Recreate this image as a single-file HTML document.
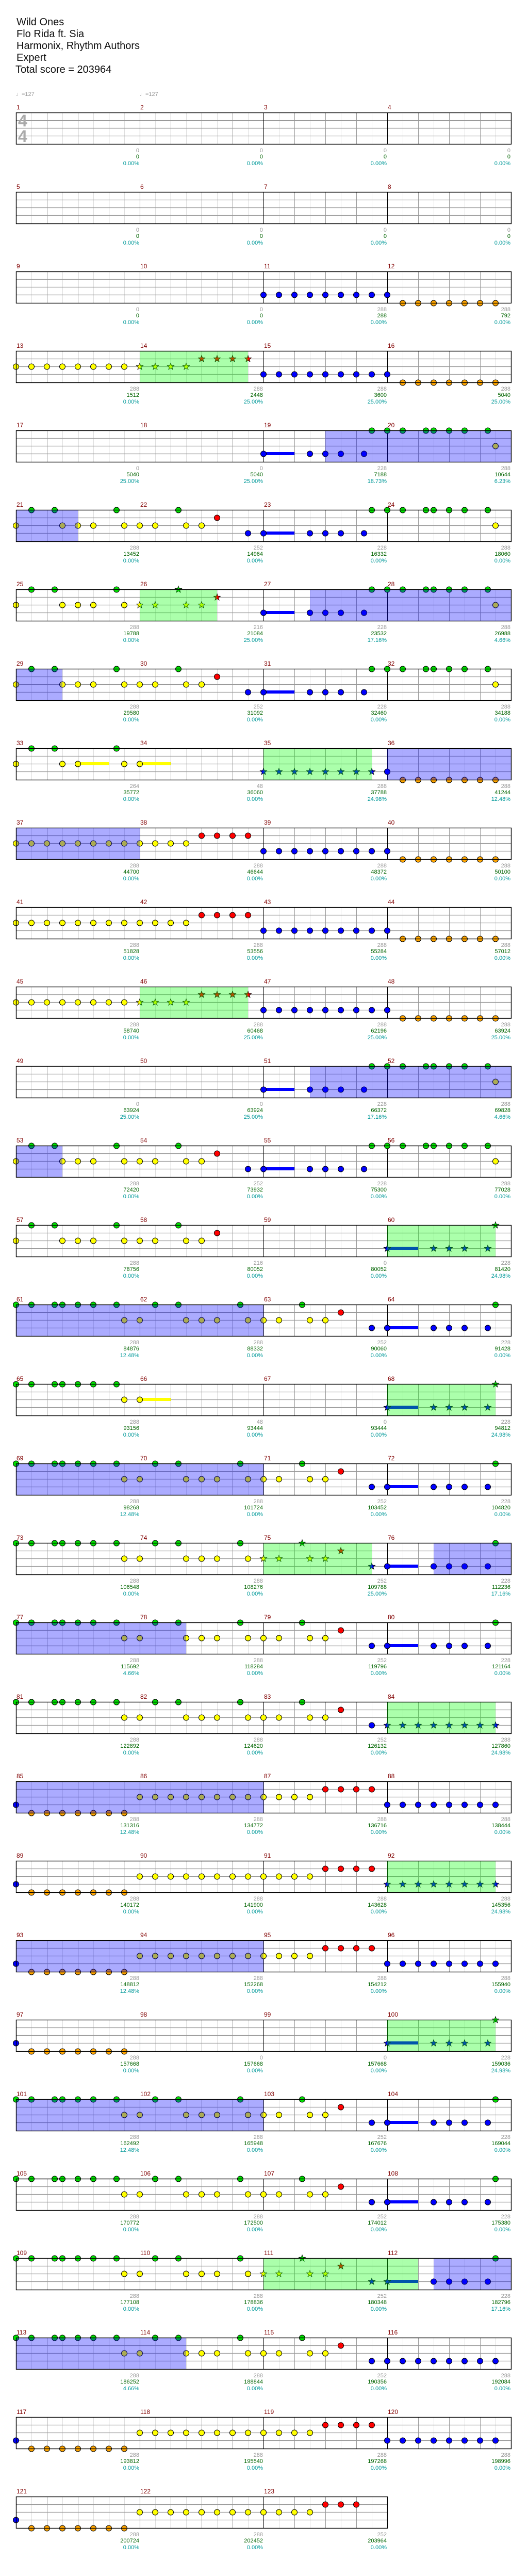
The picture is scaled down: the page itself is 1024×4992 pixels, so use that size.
<!DOCTYPE html>
<html><head><meta charset="utf-8">
<style>
html,body{margin:0;padding:0;background:#fff;}
svg{display:block;}
text{font-family:"Liberation Sans",sans-serif;}
.t{font-size:20px;fill:#111;}
.n{font-size:12px;fill:#800000;}
.g,.s,.p{font-size:11px;text-anchor:end;}
.g{fill:#999;}
.s{fill:#006400;}
.p{fill:#009999;}
.tm{font-size:11px;fill:#999;}
.ts{font-size:32px;font-weight:bold;fill:#aaa;}
</style></head>
<body>
<svg id="svg" width="1024" height="4992" viewBox="0 0 1024 4992" xmlns="http://www.w3.org/2000/svg">
<rect width="1024" height="4992" fill="#fff"/>
<g id="shapes"></g>
<g id="texts">
<text class="t" x="32" y="49">Wild Ones</text>
<text class="t" x="32" y="72">Flo Rida ft.  Sia</text>
<text class="t" x="32" y="95">Harmonix,  Rhythm  Authors</text>
<text class="t" x="32" y="118">Expert</text>
<text class="t" x="30" y="141">Total score = 203964</text>
<text class="tm" x="31" y="186">♩=127</text>
<text class="tm" x="271" y="186">♩=127</text>
<text class="ts" x="35" y="245">4</text>
<text class="ts" x="35" y="275">4</text>

<g transform="translate(0,218)">
<text class="n" x="32" y="-6">1</text><text class="n" x="272" y="-6">2</text><text class="n" x="512" y="-6">3</text><text class="n" x="752" y="-6">4</text>
<text class="g" x="270" y="77">0</text><text class="s" x="270" y="89">0</text><text class="p" x="270" y="102">0.00%</text>
<text class="g" x="510" y="77">0</text><text class="s" x="510" y="89">0</text><text class="p" x="510" y="102">0.00%</text>
<text class="g" x="750" y="77">0</text><text class="s" x="750" y="89">0</text><text class="p" x="750" y="102">0.00%</text>
<text class="g" x="990" y="77">0</text><text class="s" x="990" y="89">0</text><text class="p" x="990" y="102">0.00%</text>
</g>
<g transform="translate(0,372)">
<text class="n" x="32" y="-6">5</text><text class="n" x="272" y="-6">6</text><text class="n" x="512" y="-6">7</text><text class="n" x="752" y="-6">8</text>
<text class="g" x="270" y="77">0</text><text class="s" x="270" y="89">0</text><text class="p" x="270" y="102">0.00%</text>
<text class="g" x="510" y="77">0</text><text class="s" x="510" y="89">0</text><text class="p" x="510" y="102">0.00%</text>
<text class="g" x="750" y="77">0</text><text class="s" x="750" y="89">0</text><text class="p" x="750" y="102">0.00%</text>
<text class="g" x="990" y="77">0</text><text class="s" x="990" y="89">0</text><text class="p" x="990" y="102">0.00%</text>
</g>
<g transform="translate(0,526)">
<text class="n" x="32" y="-6">9</text><text class="n" x="272" y="-6">10</text><text class="n" x="512" y="-6">11</text><text class="n" x="752" y="-6">12</text>
<text class="g" x="270" y="77">0</text><text class="s" x="270" y="89">0</text><text class="p" x="270" y="102">0.00%</text>
<text class="g" x="510" y="77">0</text><text class="s" x="510" y="89">0</text><text class="p" x="510" y="102">0.00%</text>
<text class="g" x="750" y="77">288</text><text class="s" x="750" y="89">288</text><text class="p" x="750" y="102">0.00%</text>
<text class="g" x="990" y="77">288</text><text class="s" x="990" y="89">792</text><text class="p" x="990" y="102">0.00%</text>
</g>
<g transform="translate(0,680)">
<text class="n" x="32" y="-6">13</text><text class="n" x="272" y="-6">14</text><text class="n" x="512" y="-6">15</text><text class="n" x="752" y="-6">16</text>
<text class="g" x="270" y="77">288</text><text class="s" x="270" y="89">1512</text><text class="p" x="270" y="102">0.00%</text>
<text class="g" x="510" y="77">288</text><text class="s" x="510" y="89">2448</text><text class="p" x="510" y="102">25.00%</text>
<text class="g" x="750" y="77">288</text><text class="s" x="750" y="89">3600</text><text class="p" x="750" y="102">25.00%</text>
<text class="g" x="990" y="77">288</text><text class="s" x="990" y="89">5040</text><text class="p" x="990" y="102">25.00%</text>
</g>
<g transform="translate(0,834)">
<text class="n" x="32" y="-6">17</text><text class="n" x="272" y="-6">18</text><text class="n" x="512" y="-6">19</text><text class="n" x="752" y="-6">20</text>
<text class="g" x="270" y="77">0</text><text class="s" x="270" y="89">5040</text><text class="p" x="270" y="102">25.00%</text>
<text class="g" x="510" y="77">0</text><text class="s" x="510" y="89">5040</text><text class="p" x="510" y="102">25.00%</text>
<text class="g" x="750" y="77">228</text><text class="s" x="750" y="89">7188</text><text class="p" x="750" y="102">18.73%</text>
<text class="g" x="990" y="77">288</text><text class="s" x="990" y="89">10644</text><text class="p" x="990" y="102">6.23%</text>
</g>
<g transform="translate(0,988)">
<text class="n" x="32" y="-6">21</text><text class="n" x="272" y="-6">22</text><text class="n" x="512" y="-6">23</text><text class="n" x="752" y="-6">24</text>
<text class="g" x="270" y="77">288</text><text class="s" x="270" y="89">13452</text><text class="p" x="270" y="102">0.00%</text>
<text class="g" x="510" y="77">252</text><text class="s" x="510" y="89">14964</text><text class="p" x="510" y="102">0.00%</text>
<text class="g" x="750" y="77">228</text><text class="s" x="750" y="89">16332</text><text class="p" x="750" y="102">0.00%</text>
<text class="g" x="990" y="77">288</text><text class="s" x="990" y="89">18060</text><text class="p" x="990" y="102">0.00%</text>
</g>
<g transform="translate(0,1142)">
<text class="n" x="32" y="-6">25</text><text class="n" x="272" y="-6">26</text><text class="n" x="512" y="-6">27</text><text class="n" x="752" y="-6">28</text>
<text class="g" x="270" y="77">288</text><text class="s" x="270" y="89">19788</text><text class="p" x="270" y="102">0.00%</text>
<text class="g" x="510" y="77">216</text><text class="s" x="510" y="89">21084</text><text class="p" x="510" y="102">25.00%</text>
<text class="g" x="750" y="77">228</text><text class="s" x="750" y="89">23532</text><text class="p" x="750" y="102">17.16%</text>
<text class="g" x="990" y="77">288</text><text class="s" x="990" y="89">26988</text><text class="p" x="990" y="102">4.66%</text>
</g>
<g transform="translate(0,1296)">
<text class="n" x="32" y="-6">29</text><text class="n" x="272" y="-6">30</text><text class="n" x="512" y="-6">31</text><text class="n" x="752" y="-6">32</text>
<text class="g" x="270" y="77">288</text><text class="s" x="270" y="89">29580</text><text class="p" x="270" y="102">0.00%</text>
<text class="g" x="510" y="77">252</text><text class="s" x="510" y="89">31092</text><text class="p" x="510" y="102">0.00%</text>
<text class="g" x="750" y="77">228</text><text class="s" x="750" y="89">32460</text><text class="p" x="750" y="102">0.00%</text>
<text class="g" x="990" y="77">288</text><text class="s" x="990" y="89">34188</text><text class="p" x="990" y="102">0.00%</text>
</g>
<g transform="translate(0,1450)">
<text class="n" x="32" y="-6">33</text><text class="n" x="272" y="-6">34</text><text class="n" x="512" y="-6">35</text><text class="n" x="752" y="-6">36</text>
<text class="g" x="270" y="77">264</text><text class="s" x="270" y="89">35772</text><text class="p" x="270" y="102">0.00%</text>
<text class="g" x="510" y="77">48</text><text class="s" x="510" y="89">36060</text><text class="p" x="510" y="102">0.00%</text>
<text class="g" x="750" y="77">288</text><text class="s" x="750" y="89">37788</text><text class="p" x="750" y="102">24.98%</text>
<text class="g" x="990" y="77">288</text><text class="s" x="990" y="89">41244</text><text class="p" x="990" y="102">12.48%</text>
</g>
<g transform="translate(0,1604)">
<text class="n" x="32" y="-6">37</text><text class="n" x="272" y="-6">38</text><text class="n" x="512" y="-6">39</text><text class="n" x="752" y="-6">40</text>
<text class="g" x="270" y="77">288</text><text class="s" x="270" y="89">44700</text><text class="p" x="270" y="102">0.00%</text>
<text class="g" x="510" y="77">288</text><text class="s" x="510" y="89">46644</text><text class="p" x="510" y="102">0.00%</text>
<text class="g" x="750" y="77">288</text><text class="s" x="750" y="89">48372</text><text class="p" x="750" y="102">0.00%</text>
<text class="g" x="990" y="77">288</text><text class="s" x="990" y="89">50100</text><text class="p" x="990" y="102">0.00%</text>
</g>
<g transform="translate(0,1758)">
<text class="n" x="32" y="-6">41</text><text class="n" x="272" y="-6">42</text><text class="n" x="512" y="-6">43</text><text class="n" x="752" y="-6">44</text>
<text class="g" x="270" y="77">288</text><text class="s" x="270" y="89">51828</text><text class="p" x="270" y="102">0.00%</text>
<text class="g" x="510" y="77">288</text><text class="s" x="510" y="89">53556</text><text class="p" x="510" y="102">0.00%</text>
<text class="g" x="750" y="77">288</text><text class="s" x="750" y="89">55284</text><text class="p" x="750" y="102">0.00%</text>
<text class="g" x="990" y="77">288</text><text class="s" x="990" y="89">57012</text><text class="p" x="990" y="102">0.00%</text>
</g>
<g transform="translate(0,1912)">
<text class="n" x="32" y="-6">45</text><text class="n" x="272" y="-6">46</text><text class="n" x="512" y="-6">47</text><text class="n" x="752" y="-6">48</text>
<text class="g" x="270" y="77">288</text><text class="s" x="270" y="89">58740</text><text class="p" x="270" y="102">0.00%</text>
<text class="g" x="510" y="77">288</text><text class="s" x="510" y="89">60468</text><text class="p" x="510" y="102">25.00%</text>
<text class="g" x="750" y="77">288</text><text class="s" x="750" y="89">62196</text><text class="p" x="750" y="102">25.00%</text>
<text class="g" x="990" y="77">288</text><text class="s" x="990" y="89">63924</text><text class="p" x="990" y="102">25.00%</text>
</g>
<g transform="translate(0,2066)">
<text class="n" x="32" y="-6">49</text><text class="n" x="272" y="-6">50</text><text class="n" x="512" y="-6">51</text><text class="n" x="752" y="-6">52</text>
<text class="g" x="270" y="77">0</text><text class="s" x="270" y="89">63924</text><text class="p" x="270" y="102">25.00%</text>
<text class="g" x="510" y="77">0</text><text class="s" x="510" y="89">63924</text><text class="p" x="510" y="102">25.00%</text>
<text class="g" x="750" y="77">228</text><text class="s" x="750" y="89">66372</text><text class="p" x="750" y="102">17.16%</text>
<text class="g" x="990" y="77">288</text><text class="s" x="990" y="89">69828</text><text class="p" x="990" y="102">4.66%</text>
</g>
<g transform="translate(0,2220)">
<text class="n" x="32" y="-6">53</text><text class="n" x="272" y="-6">54</text><text class="n" x="512" y="-6">55</text><text class="n" x="752" y="-6">56</text>
<text class="g" x="270" y="77">288</text><text class="s" x="270" y="89">72420</text><text class="p" x="270" y="102">0.00%</text>
<text class="g" x="510" y="77">252</text><text class="s" x="510" y="89">73932</text><text class="p" x="510" y="102">0.00%</text>
<text class="g" x="750" y="77">228</text><text class="s" x="750" y="89">75300</text><text class="p" x="750" y="102">0.00%</text>
<text class="g" x="990" y="77">288</text><text class="s" x="990" y="89">77028</text><text class="p" x="990" y="102">0.00%</text>
</g>
<g transform="translate(0,2374)">
<text class="n" x="32" y="-6">57</text><text class="n" x="272" y="-6">58</text><text class="n" x="512" y="-6">59</text><text class="n" x="752" y="-6">60</text>
<text class="g" x="270" y="77">288</text><text class="s" x="270" y="89">78756</text><text class="p" x="270" y="102">0.00%</text>
<text class="g" x="510" y="77">216</text><text class="s" x="510" y="89">80052</text><text class="p" x="510" y="102">0.00%</text>
<text class="g" x="750" y="77">0</text><text class="s" x="750" y="89">80052</text><text class="p" x="750" y="102">0.00%</text>
<text class="g" x="990" y="77">228</text><text class="s" x="990" y="89">81420</text><text class="p" x="990" y="102">24.98%</text>
</g>
<g transform="translate(0,2528)">
<text class="n" x="32" y="-6">61</text><text class="n" x="272" y="-6">62</text><text class="n" x="512" y="-6">63</text><text class="n" x="752" y="-6">64</text>
<text class="g" x="270" y="77">288</text><text class="s" x="270" y="89">84876</text><text class="p" x="270" y="102">12.48%</text>
<text class="g" x="510" y="77">288</text><text class="s" x="510" y="89">88332</text><text class="p" x="510" y="102">0.00%</text>
<text class="g" x="750" y="77">252</text><text class="s" x="750" y="89">90060</text><text class="p" x="750" y="102">0.00%</text>
<text class="g" x="990" y="77">228</text><text class="s" x="990" y="89">91428</text><text class="p" x="990" y="102">0.00%</text>
</g>
<g transform="translate(0,2682)">
<text class="n" x="32" y="-6">65</text><text class="n" x="272" y="-6">66</text><text class="n" x="512" y="-6">67</text><text class="n" x="752" y="-6">68</text>
<text class="g" x="270" y="77">288</text><text class="s" x="270" y="89">93156</text><text class="p" x="270" y="102">0.00%</text>
<text class="g" x="510" y="77">48</text><text class="s" x="510" y="89">93444</text><text class="p" x="510" y="102">0.00%</text>
<text class="g" x="750" y="77">0</text><text class="s" x="750" y="89">93444</text><text class="p" x="750" y="102">0.00%</text>
<text class="g" x="990" y="77">228</text><text class="s" x="990" y="89">94812</text><text class="p" x="990" y="102">24.98%</text>
</g>
<g transform="translate(0,2836)">
<text class="n" x="32" y="-6">69</text><text class="n" x="272" y="-6">70</text><text class="n" x="512" y="-6">71</text><text class="n" x="752" y="-6">72</text>
<text class="g" x="270" y="77">288</text><text class="s" x="270" y="89">98268</text><text class="p" x="270" y="102">12.48%</text>
<text class="g" x="510" y="77">288</text><text class="s" x="510" y="89">101724</text><text class="p" x="510" y="102">0.00%</text>
<text class="g" x="750" y="77">252</text><text class="s" x="750" y="89">103452</text><text class="p" x="750" y="102">0.00%</text>
<text class="g" x="990" y="77">228</text><text class="s" x="990" y="89">104820</text><text class="p" x="990" y="102">0.00%</text>
</g>
<g transform="translate(0,2990)">
<text class="n" x="32" y="-6">73</text><text class="n" x="272" y="-6">74</text><text class="n" x="512" y="-6">75</text><text class="n" x="752" y="-6">76</text>
<text class="g" x="270" y="77">288</text><text class="s" x="270" y="89">106548</text><text class="p" x="270" y="102">0.00%</text>
<text class="g" x="510" y="77">288</text><text class="s" x="510" y="89">108276</text><text class="p" x="510" y="102">0.00%</text>
<text class="g" x="750" y="77">252</text><text class="s" x="750" y="89">109788</text><text class="p" x="750" y="102">25.00%</text>
<text class="g" x="990" y="77">228</text><text class="s" x="990" y="89">112236</text><text class="p" x="990" y="102">17.16%</text>
</g>
<g transform="translate(0,3144)">
<text class="n" x="32" y="-6">77</text><text class="n" x="272" y="-6">78</text><text class="n" x="512" y="-6">79</text><text class="n" x="752" y="-6">80</text>
<text class="g" x="270" y="77">288</text><text class="s" x="270" y="89">115692</text><text class="p" x="270" y="102">4.66%</text>
<text class="g" x="510" y="77">288</text><text class="s" x="510" y="89">118284</text><text class="p" x="510" y="102">0.00%</text>
<text class="g" x="750" y="77">252</text><text class="s" x="750" y="89">119796</text><text class="p" x="750" y="102">0.00%</text>
<text class="g" x="990" y="77">228</text><text class="s" x="990" y="89">121164</text><text class="p" x="990" y="102">0.00%</text>
</g>
<g transform="translate(0,3298)">
<text class="n" x="32" y="-6">81</text><text class="n" x="272" y="-6">82</text><text class="n" x="512" y="-6">83</text><text class="n" x="752" y="-6">84</text>
<text class="g" x="270" y="77">288</text><text class="s" x="270" y="89">122892</text><text class="p" x="270" y="102">0.00%</text>
<text class="g" x="510" y="77">288</text><text class="s" x="510" y="89">124620</text><text class="p" x="510" y="102">0.00%</text>
<text class="g" x="750" y="77">252</text><text class="s" x="750" y="89">126132</text><text class="p" x="750" y="102">0.00%</text>
<text class="g" x="990" y="77">288</text><text class="s" x="990" y="89">127860</text><text class="p" x="990" y="102">24.98%</text>
</g>
<g transform="translate(0,3452)">
<text class="n" x="32" y="-6">85</text><text class="n" x="272" y="-6">86</text><text class="n" x="512" y="-6">87</text><text class="n" x="752" y="-6">88</text>
<text class="g" x="270" y="77">288</text><text class="s" x="270" y="89">131316</text><text class="p" x="270" y="102">12.48%</text>
<text class="g" x="510" y="77">288</text><text class="s" x="510" y="89">134772</text><text class="p" x="510" y="102">0.00%</text>
<text class="g" x="750" y="77">288</text><text class="s" x="750" y="89">136716</text><text class="p" x="750" y="102">0.00%</text>
<text class="g" x="990" y="77">288</text><text class="s" x="990" y="89">138444</text><text class="p" x="990" y="102">0.00%</text>
</g>
<g transform="translate(0,3606)">
<text class="n" x="32" y="-6">89</text><text class="n" x="272" y="-6">90</text><text class="n" x="512" y="-6">91</text><text class="n" x="752" y="-6">92</text>
<text class="g" x="270" y="77">288</text><text class="s" x="270" y="89">140172</text><text class="p" x="270" y="102">0.00%</text>
<text class="g" x="510" y="77">288</text><text class="s" x="510" y="89">141900</text><text class="p" x="510" y="102">0.00%</text>
<text class="g" x="750" y="77">288</text><text class="s" x="750" y="89">143628</text><text class="p" x="750" y="102">0.00%</text>
<text class="g" x="990" y="77">288</text><text class="s" x="990" y="89">145356</text><text class="p" x="990" y="102">24.98%</text>
</g>
<g transform="translate(0,3760)">
<text class="n" x="32" y="-6">93</text><text class="n" x="272" y="-6">94</text><text class="n" x="512" y="-6">95</text><text class="n" x="752" y="-6">96</text>
<text class="g" x="270" y="77">288</text><text class="s" x="270" y="89">148812</text><text class="p" x="270" y="102">12.48%</text>
<text class="g" x="510" y="77">288</text><text class="s" x="510" y="89">152268</text><text class="p" x="510" y="102">0.00%</text>
<text class="g" x="750" y="77">288</text><text class="s" x="750" y="89">154212</text><text class="p" x="750" y="102">0.00%</text>
<text class="g" x="990" y="77">288</text><text class="s" x="990" y="89">155940</text><text class="p" x="990" y="102">0.00%</text>
</g>
<g transform="translate(0,3914)">
<text class="n" x="32" y="-6">97</text><text class="n" x="272" y="-6">98</text><text class="n" x="512" y="-6">99</text><text class="n" x="752" y="-6">100</text>
<text class="g" x="270" y="77">288</text><text class="s" x="270" y="89">157668</text><text class="p" x="270" y="102">0.00%</text>
<text class="g" x="510" y="77">0</text><text class="s" x="510" y="89">157668</text><text class="p" x="510" y="102">0.00%</text>
<text class="g" x="750" y="77">0</text><text class="s" x="750" y="89">157668</text><text class="p" x="750" y="102">0.00%</text>
<text class="g" x="990" y="77">228</text><text class="s" x="990" y="89">159036</text><text class="p" x="990" y="102">24.98%</text>
</g>
<g transform="translate(0,4068)">
<text class="n" x="32" y="-6">101</text><text class="n" x="272" y="-6">102</text><text class="n" x="512" y="-6">103</text><text class="n" x="752" y="-6">104</text>
<text class="g" x="270" y="77">288</text><text class="s" x="270" y="89">162492</text><text class="p" x="270" y="102">12.48%</text>
<text class="g" x="510" y="77">288</text><text class="s" x="510" y="89">165948</text><text class="p" x="510" y="102">0.00%</text>
<text class="g" x="750" y="77">252</text><text class="s" x="750" y="89">167676</text><text class="p" x="750" y="102">0.00%</text>
<text class="g" x="990" y="77">228</text><text class="s" x="990" y="89">169044</text><text class="p" x="990" y="102">0.00%</text>
</g>
<g transform="translate(0,4222)">
<text class="n" x="32" y="-6">105</text><text class="n" x="272" y="-6">106</text><text class="n" x="512" y="-6">107</text><text class="n" x="752" y="-6">108</text>
<text class="g" x="270" y="77">288</text><text class="s" x="270" y="89">170772</text><text class="p" x="270" y="102">0.00%</text>
<text class="g" x="510" y="77">288</text><text class="s" x="510" y="89">172500</text><text class="p" x="510" y="102">0.00%</text>
<text class="g" x="750" y="77">252</text><text class="s" x="750" y="89">174012</text><text class="p" x="750" y="102">0.00%</text>
<text class="g" x="990" y="77">228</text><text class="s" x="990" y="89">175380</text><text class="p" x="990" y="102">0.00%</text>
</g>
<g transform="translate(0,4376)">
<text class="n" x="32" y="-6">109</text><text class="n" x="272" y="-6">110</text><text class="n" x="512" y="-6">111</text><text class="n" x="752" y="-6">112</text>
<text class="g" x="270" y="77">288</text><text class="s" x="270" y="89">177108</text><text class="p" x="270" y="102">0.00%</text>
<text class="g" x="510" y="77">288</text><text class="s" x="510" y="89">178836</text><text class="p" x="510" y="102">0.00%</text>
<text class="g" x="750" y="77">252</text><text class="s" x="750" y="89">180348</text><text class="p" x="750" y="102">0.00%</text>
<text class="g" x="990" y="77">228</text><text class="s" x="990" y="89">182796</text><text class="p" x="990" y="102">17.16%</text>
</g>
<g transform="translate(0,4530)">
<text class="n" x="32" y="-6">113</text><text class="n" x="272" y="-6">114</text><text class="n" x="512" y="-6">115</text><text class="n" x="752" y="-6">116</text>
<text class="g" x="270" y="77">288</text><text class="s" x="270" y="89">186252</text><text class="p" x="270" y="102">4.66%</text>
<text class="g" x="510" y="77">288</text><text class="s" x="510" y="89">188844</text><text class="p" x="510" y="102">0.00%</text>
<text class="g" x="750" y="77">252</text><text class="s" x="750" y="89">190356</text><text class="p" x="750" y="102">0.00%</text>
<text class="g" x="990" y="77">288</text><text class="s" x="990" y="89">192084</text><text class="p" x="990" y="102">0.00%</text>
</g>
<g transform="translate(0,4684)">
<text class="n" x="32" y="-6">117</text><text class="n" x="272" y="-6">118</text><text class="n" x="512" y="-6">119</text><text class="n" x="752" y="-6">120</text>
<text class="g" x="270" y="77">288</text><text class="s" x="270" y="89">193812</text><text class="p" x="270" y="102">0.00%</text>
<text class="g" x="510" y="77">288</text><text class="s" x="510" y="89">195540</text><text class="p" x="510" y="102">0.00%</text>
<text class="g" x="750" y="77">288</text><text class="s" x="750" y="89">197268</text><text class="p" x="750" y="102">0.00%</text>
<text class="g" x="990" y="77">288</text><text class="s" x="990" y="89">198996</text><text class="p" x="990" y="102">0.00%</text>
</g>
<g transform="translate(0,4838)">
<text class="n" x="32" y="-6">121</text><text class="n" x="272" y="-6">122</text><text class="n" x="512" y="-6">123</text>
<text class="g" x="270" y="77">288</text><text class="s" x="270" y="89">200724</text><text class="p" x="270" y="102">0.00%</text>
<text class="g" x="510" y="77">288</text><text class="s" x="510" y="89">202452</text><text class="p" x="510" y="102">0.00%</text>
<text class="g" x="750" y="77">252</text><text class="s" x="750" y="89">203964</text><text class="p" x="750" y="102">0.00%</text>
</g>
</g>
</svg>
<script>
(function(){
var LY=[0,15,30,45,61];
var COL={G:'#00e000',R:'#ff0000',Y:'#ffff00',B:'#0000ff',O:'#ffa500'};
var LI={G:0,R:1,Y:2,B:3,O:4};
function parse(str){
  var out=[];
  str.split(' ').forEach(function(tok){
    if(!tok)return;
    var star=tok[0]=='*'; if(star)tok=tok.slice(1);
    var lane=tok[0]; var rest=tok.slice(1);
    rest.split(',').forEach(function(p){
      if(p.indexOf('-')>0){var a=+p.split('-')[0],b=+p.split('-')[1];for(var e=a;e<=b;e++)out.push([lane,e,star]);}
      else out.push([lane,+p,star]);
    });
  });
  return out;
}
function star(cx,cy,c){
  var p=[];for(var i=0;i<10;i++){var r=i%2?2.8:6.8;var a=-Math.PI/2+i*Math.PI/5;p.push((cx+r*Math.cos(a)).toFixed(1)+','+(cy+r*Math.sin(a)).toFixed(1));}
  return '<polygon points="'+p.join(' ')+'" fill="'+c+'" stroke="#000" stroke-width="0.8"/>';
}
var GR="G0,1,2.5,3,4,5,6.5,9,10.5,14.5,18.5";
var YR="Y7,8,11,12,13,15,16,17,19,20";
var GTOP="G23,24,25,26.5,27,28,29,30.5";
var VA="G1,2.5,6.5,10.5 Y0,3,4,5,7,8,9,11,12 R13 B15,16,19,20,21,22.5 "+GTOP+" Y31";
var CH15=GR+" "+YR+" R21 B23,24,27,28,29,30.5 G31";
var INTRO="B16,19,20,21,22.5 "+GTOP+" Y31";
var R=[
 {},
 {},
 {n:"B16-24 O25-31"},
 {n:"Y0-7 *Y8-11 *R12-15 B16-24 O25-31",gz:[[8,15]]},
 {n:INTRO,s:["B16-18"],bz:[[20,32]]},
 {n:VA,s:["B16-18"],bz:[[0,4]]},
 {n:"G1,2.5,6.5 Y0,3,4,5,7 *Y8,9,11,12 *G10.5 *R13 "+INTRO,s:["B16-18"],gz:[[8,13]],bz:[[19,32]]},
 {n:VA,s:["B16-18"],bz:[[0,3]]},
 {n:"G1,2.5,6.5 Y0,3,4,7,8 *B16-23 B24 O25-31",s:["Y4-6","Y8-10"],gz:[[16,23]],bz:[[24,32]]},
 {n:"Y0-11 R12-15 B16-24 O25-31",bz:[[0,8]]},
 {n:"Y0-11 R12-15 B16-24 O25-31"},
 {n:"Y0-7 *Y8-11 *R12-15 B16-24 O25-31",gz:[[8,15]]},
 {n:INTRO,s:["B16-18"],bz:[[19,32]]},
 {n:VA,s:["B16-18"],bz:[[0,3]]},
 {n:"G1,2.5,6.5,10.5 Y0,3,4,5,7,8,9,11,12 R13 *B24,27,28,29,30.5 *G31",s:["B24-26"],gz:[[24,31]]},
 {n:CH15,s:["B24-26"],bz:[[0,16]]},
 {n:"G0,1,2.5,3,4,5,6.5 Y7,8 *B24,27,28,29,30.5 *G31",s:["Y8-10","B24-26"],gz:[[24,31]]},
 {n:CH15,s:["B24-26"],bz:[[0,16]]},
 {n:"G0,1,2.5,3,4,5,6.5,9,10.5,14.5 Y7,8,11,12,13,15 *Y16,17,19,20 *G18.5 *R21 *B23 B24,27,28,29,30.5 G31",s:["B24-26"],gz:[[16,23]],bz:[[27,32]]},
 {n:CH15,s:["B24-26"],bz:[[0,11]]},
 {n:GR+" "+YR+" R21 B23 *B24-31",gz:[[24,31]]},
 {n:"B0 O1-7 Y8-19 R20-23 B24-31",bz:[[0,16]]},
 {n:"B0 O1-7 Y8-19 R20-23 *B24-31",gz:[[24,31]]},
 {n:"B0 O1-7 Y8-19 R20-23 B24-31",bz:[[0,16]]},
 {n:"B0 O1-7 *B24,27,28,29,30.5 *G31",s:["B24-26"],gz:[[24,31]]},
 {n:CH15,s:["B24-26"],bz:[[0,16]]},
 {n:CH15,s:["B24-26"]},
 {n:"G0,1,2.5,3,4,5,6.5,9,10.5,14.5 Y7,8,11,12,13,15 *Y16,17,19,20 *G18.5 *R21 *B23,24 B27,28,29,30.5 G31",s:["B24-26"],gz:[[16,26]],bz:[[27,32]]},
 {n:GR+" "+YR+" R21 B23-31",bz:[[0,11]]},
 {n:"B0 O1-7 Y8-19 R20-23 B24-31"},
 {n:"B0 O1-7 Y8-19 R20-22",m:3}
];
var h=[];
R.forEach(function(r,k){
  var T=218+154*k, m=r.m||4, W=m*240, X0=31;
  h.push('<g transform="translate(0,'+T+')">');
  h.push('<rect x="31" y="0" width="'+W+'" height="61" fill="#fff"/>');
  for(var j=1;j<m*8;j++){
    var x=X0+30*j+0.5;
    var c=(j%8==0)?'#000':(j%2==0?'#999':'#ddd');
    h.push('<line x1="'+x+'" y1="0" x2="'+x+'" y2="61" stroke="'+c+'" stroke-width="1"/>');
  }
  [15,30,45].forEach(function(y){h.push('<line x1="31" y1="'+(y+0.5)+'" x2="'+(31+W)+'" y2="'+(y+0.5)+'" stroke="#999" stroke-width="1.3"/>');});
  for(var j=8;j<m*8;j+=8){var x=X0+30*j+0.5;h.push('<line x1="'+x+'" y1="0" x2="'+x+'" y2="61" stroke="#000" stroke-width="1"/>');}
  (r.s||[]).forEach(function(s){
    var lane=s[0],a=+s.slice(1).split('-')[0],b=+s.slice(1).split('-')[1];
    var y=LY[LI[lane]];
    h.push('<rect x="'+(X0+30*a)+'" y="'+(y-3)+'" width="'+(30*(b-a))+'" height="6" fill="'+COL[lane]+'"/>');
  });
  if(r.n){parse(r.n).forEach(function(nt){
    var x=X0+30*nt[1], y=LY[LI[nt[0]]]+0.5, c=COL[nt[0]];
    if(nt[2])h.push(star(x,y,c));
    else h.push('<circle cx="'+x+'" cy="'+y+'" r="5.5" fill="'+c+'" stroke="#000" stroke-width="1"/>');
  });}
  (r.gz||[]).forEach(function(z){h.push('<rect x="'+(X0+30*z[0])+'" y="0" width="'+(30*(z[1]-z[0]))+'" height="61" fill="rgba(0,255,0,0.33)"/>');});
  (r.bz||[]).forEach(function(z){h.push('<rect x="'+(X0+30*z[0])+'" y="0" width="'+(30*(z[1]-z[0]))+'" height="61" fill="rgba(0,0,255,0.33)"/>');});
  h.push('<rect x="31.5" y="0.5" width="'+(W)+'" height="61" fill="none" stroke="#000" stroke-width="1.4"/>');
  h.push('</g>');
});
document.getElementById('shapes').innerHTML=h.join('');
})();
</script>
</body></html>
